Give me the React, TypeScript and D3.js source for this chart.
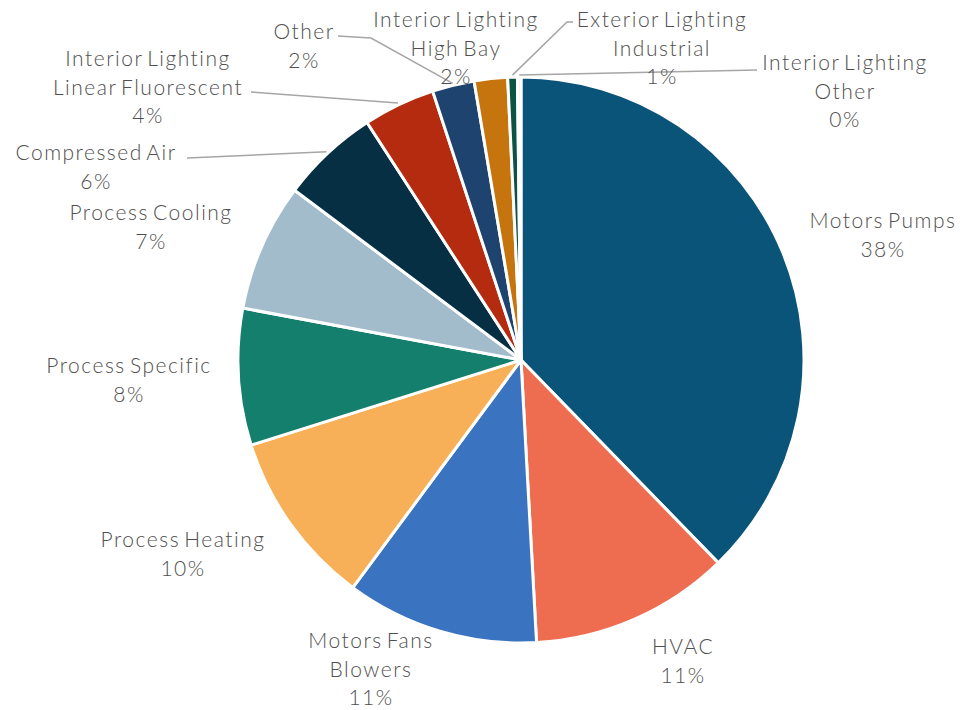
import React, { useRef, useEffect } from "react";
import * as d3 from "d3";

// Share of energy savings by end use, clockwise from 12 o'clock
const categories = [
  "Motors Pumps",
  "HVAC",
  "Motors Fans Blowers",
  "Process Heating",
  "Process Specific",
  "Process Cooling",
  "Compressed Air",
  "Interior Lighting Linear Fluorescent",
  "Other",
  "Interior Lighting High Bay",
  "Exterior Lighting Industrial",
  "Interior Lighting Other",
];
const shares = [37.7, 11.4, 11.0, 10.0, 7.8, 7.3, 5.6, 4.1, 2.4, 1.9, 0.55, 0.2];
const labelLines = [
  ["Motors Pumps"],
  ["HVAC"],
  ["Motors Fans", "Blowers"],
  ["Process Heating"],
  ["Process Specific"],
  ["Process Cooling"],
  ["Compressed Air"],
  ["Interior Lighting", "Linear Fluorescent"],
  ["Other"],
  ["Interior Lighting", "High Bay"],
  ["Exterior Lighting", "Industrial"],
  ["Interior Lighting", "Other"],
];

const colors = [
  "#0a5479",
  "#ee6c4f",
  "#3a73bf",
  "#f7b057",
  "#137f6c",
  "#a3bccb",
  "#062f43",
  "#b52b10",
  "#1d436e",
  "#c6750e",
  "#0b5444",
  "#e4eaee",
];

// label layout, relative to pie centre: text centre x, first line y, optional leader start/elbow
type Place = { x: number; y: number; lead?: [number, number][] };
const placement: Place[] = [
  { x: 362, y: -139 },
  { x: 162, y: 287 },
  { x: -150, y: 281 },
  { x: -338, y: 180 },
  { x: -392, y: 6 },
  { x: -370, y: -147 },
  { x: -425, y: -207, lead: [[-334, -202]] },
  { x: -373, y: -301, lead: [[-270, -268]] },
  { x: -217, y: -328, lead: [[-183, -324], [-150, -322]] },
  { x: -65, y: -340 },
  { x: 141, y: -340, lead: [[52, -338], [46, -338]] },
  { x: 324, y: -297, lead: [[236, -290]] },
];

const width = 964;
const height = 710;
const cx = 521;
const cy = 360;
const radius = 283;
const lineH = 28.5;

export default function App() {
  const svgRef = useRef<SVGSVGElement>(null);

  useEffect(() => {
    document.body.style.margin = "0";
    if (!svgRef.current) return;
    const svg = d3.select(svgRef.current);
    svg.selectAll("*").remove();

    const data = categories.map((c, i) => ({ name: c, value: shares[i], i }));
    const pie = d3
      .pie<{ name: string; value: number; i: number }>()
      .sort(null)
      .value((d) => d.value)
      .startAngle(0)
      .endAngle(2 * Math.PI);
    const arcs = pie(data);
    const arc = d3
      .arc<d3.PieArcDatum<{ name: string; value: number; i: number }>>()
      .innerRadius(0)
      .outerRadius(radius);

    const g = svg.append("g").attr("transform", `translate(${cx}, ${cy})`);

    g.selectAll(".slice")
      .data(arcs)
      .enter()
      .append("path")
      .attr("class", "slice")
      .attr("d", arc)
      .attr("fill", (d) => colors[d.data.i])
      .attr("stroke", "#ffffff")
      .attr("stroke-width", 3)
      .attr("stroke-linejoin", "round");

    const total = d3.sum(shares);

    // Leader lines
    arcs.forEach((d) => {
      const p = placement[d.data.i];
      if (!p.lead) return;
      const mid = (d.startAngle + d.endAngle) / 2;
      const end: [number, number] = [
        (radius + 2) * Math.sin(mid),
        -(radius + 2) * Math.cos(mid),
      ];
      const pts = [...p.lead, end];
      g.append("path")
        .attr("d", d3.line()(pts))
        .attr("fill", "none")
        .attr("stroke", "#a6a6a6")
        .attr("stroke-width", 1.5);
    });

    // Labels
    arcs.forEach((d) => {
      const p = placement[d.data.i];
      const lines = [
        ...labelLines[d.data.i],
        `${Math.round((d.data.value / total) * 100)}%`,
      ];
      const t = g
        .append("text")
        .attr("x", p.x)
        .attr("y", p.y)
        .attr("text-anchor", "middle")
        .attr("font-family", "Lato, 'DejaVu Sans', sans-serif")
        .attr("font-weight", 300)
        .attr("font-size", 21)
        .attr("letter-spacing", 1.5)
        .attr("word-spacing", -3)
        .attr("fill", "#4f4f4f");
      lines.forEach((l, k) => {
        t.append("tspan")
          .attr("x", p.x)
          .attr("y", p.y + k * lineH)
          .attr("dy", "0.35em")
          .text(l);
      });
    });
  }, []);

  return (
    <svg
      ref={svgRef}
      width={width}
      height={height}
      style={{ display: "block", background: "#ffffff" }}
    />
  );
}
